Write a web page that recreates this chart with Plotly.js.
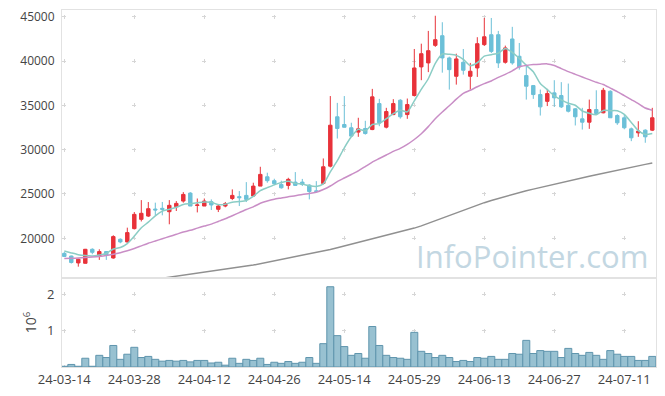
<!DOCTYPE html>
<html>
<head>
<meta charset="utf-8">
<script src="https://cdn.plot.ly/plotly-3.0.1.min.js"></script>
<style>html,body{margin:0;padding:0;background:#fff;}#chart{width:665px;height:396px;}</style>
</head>
<body>
<div id="chart"></div>
<script>
// Trading days (24-MM-DD)
const dates = ["24-03-14","24-03-15","24-03-18","24-03-19","24-03-20","24-03-21","24-03-22","24-03-25","24-03-26","24-03-27",
"24-03-28","24-03-29","24-04-01","24-04-02","24-04-03","24-04-04","24-04-05","24-04-08","24-04-09","24-04-11",
"24-04-12","24-04-15","24-04-16","24-04-17","24-04-18","24-04-19","24-04-22","24-04-23","24-04-24","24-04-25",
"24-04-26","24-04-29","24-04-30","24-05-02","24-05-03","24-05-07","24-05-08","24-05-09","24-05-10","24-05-13",
"24-05-14","24-05-16","24-05-17","24-05-20","24-05-21","24-05-22","24-05-23","24-05-24","24-05-27","24-05-28",
"24-05-29","24-05-30","24-05-31","24-06-03","24-06-04","24-06-05","24-06-07","24-06-10","24-06-11","24-06-12",
"24-06-13","24-06-14","24-06-17","24-06-18","24-06-19","24-06-20","24-06-21","24-06-24","24-06-25","24-06-26",
"24-06-27","24-06-28","24-07-01","24-07-02","24-07-03","24-07-04","24-07-05","24-07-08","24-07-09","24-07-10",
"24-07-11","24-07-12","24-07-15","24-07-16","24-07-17"];

const tickLabels = ["24-03-14","24-03-28","24-04-12","24-04-26","24-05-14","24-05-29","24-06-13","24-06-27","24-07-11"];

const openP = [18300,18000,17220,17180,18760,17970,18500,17780,19890,19590,
21090,22140,22510,23300,23380,23000,23570,24200,25100,23700,
23640,24130,23270,23640,24490,24700,24840,24770,25890,26940,
26500,26080,25970,26340,26340,26000,25350,26190,28140,33710,
32840,32470,31980,32390,32270,35200,32540,33960,35580,33960,
36110,39340,39790,41770,42860,40350,38280,39860,38280,39220,
41850,42970,42970,39860,42490,40540,38360,37230,36220,35450,
36410,36110,35010,34610,33480,33100,34530,34160,36590,33850,
33600,32350,31900,32200,32200];

const highP = [18450,18050,17700,18800,18870,18760,18550,20340,19990,21200,
22960,24310,24090,24020,24100,24310,24200,25210,25210,24490,
24490,24390,23880,24100,25520,25330,26340,26270,28070,27400,
26720,26500,26830,27470,26700,26100,26450,29010,36050,35280,
36050,33040,33600,33260,36860,35730,34720,35700,35700,35770,
41360,41960,43400,45110,44380,40500,40830,41360,39790,42690,
44870,44860,43400,41740,43860,42040,39590,37300,36780,36860,
37840,37620,37460,34700,34720,35650,36700,36970,36700,34000,
33960,32500,33210,32300,34720];

const lowP = [17900,17150,16800,17150,18200,17560,17560,17700,19440,19500,
21000,21900,22400,22590,22590,21580,23080,24020,23640,22920,
23640,23190,22960,23500,24310,23640,24090,24700,25890,26270,
26000,25600,25520,25900,25900,24390,25180,26080,28000,31260,
32500,31450,31450,31700,32200,32650,32400,33900,33500,33480,
36000,37840,38750,41600,38690,36780,37340,38470,36780,38210,
41700,40910,39220,39710,39590,39030,35650,35730,33850,34920,
34830,34700,34200,32730,32270,32350,34000,34100,33600,32800,
32300,30960,31450,30780,32100];

const closeP = [17950,17270,17640,18760,18420,18500,18120,20190,19590,20640,
22700,22820,23340,23200,23270,23720,23940,24950,23640,23760,
24200,23760,23640,23910,24840,24580,24390,25890,27210,26500,
26160,25700,26650,25970,26080,25280,25300,28070,32760,32390,
32530,31530,32350,31820,35960,33030,34300,35200,33710,35090,
39220,40830,41170,42410,40350,39030,40240,38960,38850,41960,
42740,41090,39790,41480,39790,39340,37160,36220,34830,36330,
35850,34830,34340,33710,33100,34530,34080,36700,33600,33030,
32470,31340,32090,31450,33600];

const ma5 = [18570,18350,18150,18050,18008,18118,18288,18798,18964,19408,
20248,21188,21818,22540,23066,23270,23494,23816,23904,24002,
24098,24062,23800,23854,24070,24146,24272,24722,25382,25714,
26030,26292,26444,26196,26112,25936,25856,26140,27498,28760,
30210,31456,32312,32124,32838,32938,33492,34062,34440,34266,
35504,36810,38004,39744,40796,40758,40640,40198,39486,39808,
40550,40720,40886,41412,40978,40298,39512,38798,37468,36776,
36078,35612,35236,35012,34366,34102,33952,34424,34402,34388,
33976,33068,32146,31716,31830];

const ma20 = [17710,17740,17780,17830,17880,17950,18050,18200,18380,18600,
18850,19150,19450,19700,19950,20200,20450,20700,20900,21150,
21380,21600,21900,22200,22550,22900,23250,23550,23950,24200,
24400,24550,24700,24800,24950,25050,25200,25500,25900,26400,
26800,27200,27600,28100,28600,29000,29400,29800,30150,30600,
31150,31800,32600,33500,34250,34950,35700,36350,36700,37100,
37450,37750,38150,38500,38900,39350,39500,39600,39650,39680,
39500,39150,38800,38500,38200,37900,37600,37350,36950,36550,
36100,35650,35200,34700,34450];

const ma60 = [null,null,null,null,null,null,null,null,null,null,
null,null,null,null,15500,15620,15740,15860,15980,16100,
16210,16320,16430,16540,16650,16760,16870,16980,17140,17280,
17420,17560,17710,17860,18020,18180,18350,18550,18740,18940,
19140,19380,19580,19760,19940,20120,20310,20500,20700,20920,
21150,21400,21700,22000,22300,22600,22880,23150,23450,23730,
24020,24270,24500,24730,24950,25160,25360,25550,25740,25920,
26100,26280,26460,26640,26820,26990,27160,27340,27510,27680,
27850,28020,28180,28340,28500];

// volume in millions of shares
const volume = [0.02,0.07,0.02,0.24,0.02,0.32,0.26,0.59,0.21,0.35,
0.54,0.26,0.29,0.21,0.16,0.18,0.16,0.18,0.14,0.18,
0.18,0.11,0.13,0.05,0.24,0.10,0.21,0.18,0.24,0.07,
0.13,0.10,0.15,0.10,0.13,0.26,0.10,0.64,2.20,0.86,
0.56,0.32,0.37,0.24,1.11,0.59,0.32,0.26,0.24,0.21,
0.95,0.43,0.37,0.26,0.32,0.26,0.15,0.18,0.15,0.26,
0.24,0.29,0.21,0.21,0.37,0.35,0.73,0.37,0.45,0.43,
0.43,0.26,0.51,0.37,0.32,0.40,0.32,0.21,0.45,0.35,
0.29,0.29,0.18,0.18,0.29];

const traces = [
  {type:'candlestick', x:dates, open:openP, high:highP, low:lowP, close:closeP,
   xaxis:'x', yaxis:'y', whiskerwidth:0,
   increasing:{line:{color:'#e8323a', width:1}, fillcolor:'#e8323a'},
   decreasing:{line:{color:'#6cc0d8', width:1}, fillcolor:'#6cc0d8'},
   hoverinfo:'skip'},
  {type:'scatter', mode:'lines', x:dates, y:ma5, xaxis:'x', yaxis:'y',
   line:{color:'#8bcdc5', width:1.5, shape:'spline', smoothing:0.6}},
  {type:'scatter', mode:'lines', x:dates, y:ma20, xaxis:'x', yaxis:'y',
   line:{color:'#c98ec6', width:1.5, shape:'spline', smoothing:0.6}},
  {type:'scatter', mode:'lines', x:dates, y:ma60, xaxis:'x', yaxis:'y',
   line:{color:'#909090', width:1.5}},
  {type:'bar', x:dates, y:volume, xaxis:'x2', yaxis:'y2',
   marker:{color:'#98c1d1', line:{color:'#5f95ad', width:1}}}
];

const gridC = '#d6d6d6';
const lineC = '#e2e2e2';
const layout = {
  width:665, height:396,
  margin:{l:62, r:9, t:10, b:29},
  paper_bgcolor:'#ffffff', plot_bgcolor:'#ffffff',
  showlegend:false,
  bargap:0, boxgap:0.3,
  font:{family:'"Open Sans", verdana, arial, sans-serif', color:'#444', size:12},
  xaxis:{type:'category', categoryorder:'array', categoryarray:dates,
    range:[-0.33, 84.53], anchor:'y', rangeslider:{visible:false},
    showticklabels:false, ticks:'', tickvals:tickLabels,
    showgrid:true, gridcolor:gridC, gridwidth:1, griddash:'0px,4.74px,4px,35.57px',
    showline:true, mirror:true, linecolor:lineC, linewidth:1, zeroline:false},
  xaxis2:{type:'category', matches:'x', anchor:'y2', categoryorder:'array', categoryarray:dates,
    tickvals:tickLabels, ticktext:tickLabels, ticks:'', tickfont:{size:13, color:'#444'},
    showgrid:true, gridcolor:gridC, gridwidth:1, griddash:'0px,14.05px,4px,18.43px',
    showline:true, mirror:true, linecolor:lineC, linewidth:1, zeroline:false},
  yaxis:{domain:[0.2493,1], range:[15520,45760], tick0:0, dtick:5000, anchor:'x',
    tickformat:'d', separatethousands:false,
    ticks:'', ticklabelstandoff:4, tickfont:{size:12, color:'#444'},
    showgrid:true, gridcolor:gridC, gridwidth:1, griddash:'0px,0.3px,4px,65.7px',
    showline:true, mirror:true, linecolor:lineC, linewidth:1, zeroline:false},
  yaxis2:{domain:[0,0.2493], range:[0,2.44], tickvals:[1,2], anchor:'x2',
    ticks:'', ticklabelstandoff:4, tickfont:{size:13, color:'#444'},
    title:{text:'10<sup>6</sup>', font:{size:14, color:'#444'}, standoff:7},
    showgrid:true, gridcolor:gridC, gridwidth:1, griddash:'0px,0.3px,4px,65.7px',
    showline:true, mirror:true, linecolor:lineC, linewidth:1, zeroline:false},
  annotations:[{text:'InfoPointer.com', xref:'paper', yref:'paper', x:0.99, y:0.311,
    xanchor:'right', yanchor:'middle', showarrow:false,
    font:{size:31, color:'#c3d7e2', family:'"Open Sans", sans-serif'}}]
};

Plotly.newPlot('chart', traces, layout, {displayModeBar:false, staticPlot:true});
</script>
</body>
</html>
